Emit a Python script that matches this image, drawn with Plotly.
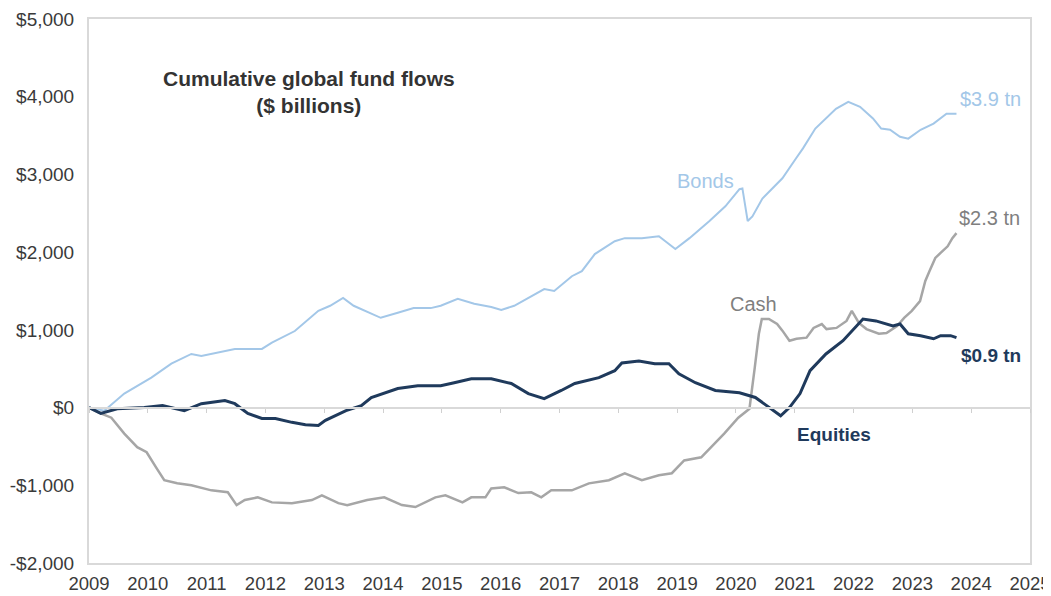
import plotly.graph_objects as go

# ---- data ----
bonds_x = [2009.00, 2009.26, 2009.60, 2010.06, 2010.40, 2010.74, 2010.91, 2011.19, 2011.48, 2011.94,
           2012.11, 2012.50, 2012.90, 2013.10, 2013.32, 2013.50, 2013.96, 2014.25, 2014.52, 2014.81,
           2014.98, 2015.27, 2015.55, 2015.84, 2016.01, 2016.23, 2016.52, 2016.74, 2016.91, 2017.21,
           2017.38, 2017.60, 2017.94, 2018.11, 2018.40, 2018.69, 2018.97, 2019.21, 2019.55, 2019.82,
           2020.06, 2020.11, 2020.20, 2020.28, 2020.45, 2020.79, 2021.02, 2021.14, 2021.35, 2021.70,
           2021.91, 2022.11, 2022.33, 2022.47, 2022.62, 2022.79, 2022.93, 2023.14, 2023.36, 2023.58,
           2023.75]
bonds_y = [0, -40, 180, 385, 565, 690, 665, 705, 755, 755,
           835, 985, 1245, 1310, 1410, 1310, 1155, 1220, 1280, 1280,
           1310, 1400, 1335, 1295, 1255, 1310, 1435, 1525, 1500, 1690,
           1755, 1975, 2140, 2180, 2180, 2205, 2040, 2180, 2400, 2590,
           2810, 2820, 2400, 2460, 2690, 2950, 3205, 3335, 3590, 3845,
           3935, 3870, 3720, 3590, 3575, 3485, 3460, 3575, 3655, 3780,
           3780]

equities_x = [2009.00, 2009.20, 2009.48, 2009.94, 2010.25, 2010.62, 2010.91, 2011.14, 2011.31, 2011.48,
              2011.70, 2011.94, 2012.17, 2012.45, 2012.68, 2012.90, 2013.02, 2013.37, 2013.63, 2013.80,
              2014.25, 2014.59, 2014.98, 2015.21, 2015.50, 2015.84, 2016.18, 2016.47, 2016.74, 2017.03,
              2017.26, 2017.67, 2017.94, 2018.06, 2018.35, 2018.62, 2018.86, 2019.03, 2019.31, 2019.65,
              2020.06, 2020.33, 2020.57, 2020.76, 2020.91, 2021.09, 2021.26, 2021.53, 2021.82, 2022.11,
              2022.16, 2022.38, 2022.67, 2022.79, 2022.93, 2023.14, 2023.36, 2023.48, 2023.65, 2023.75]
equities_y = [0, -75, -15, 0, 25, -40, 50, 75, 90, 50,
              -75, -140, -140, -190, -220, -230, -165, -40, 25, 130,
              245, 280, 280, 320, 370, 370, 310, 180, 115, 220,
              310, 385, 475, 575, 600, 565, 565, 435, 320, 220,
              190, 130, 0, -105, 0, 180, 475, 690, 860, 1090,
              1140, 1115, 1050, 1075, 950, 925, 885, 925, 925, 900]

cash_x = [2009.00, 2009.20, 2009.38, 2009.60, 2009.82, 2009.98, 2010.14, 2010.28, 2010.50, 2010.74,
          2011.08, 2011.36, 2011.51, 2011.65, 2011.87, 2012.11, 2012.45, 2012.79, 2012.96, 2013.24,
          2013.39, 2013.73, 2014.02, 2014.32, 2014.55, 2014.89, 2015.06, 2015.35, 2015.50, 2015.74,
          2015.84, 2016.06, 2016.30, 2016.52, 2016.69, 2016.86, 2017.21, 2017.50, 2017.84, 2018.11,
          2018.40, 2018.69, 2018.91, 2019.12, 2019.41, 2019.58, 2019.80, 2020.04, 2020.23, 2020.32,
          2020.39, 2020.44, 2020.56, 2020.70, 2020.79, 2020.91, 2021.03, 2021.20, 2021.32, 2021.46,
          2021.54, 2021.71, 2021.88, 2021.97, 2022.09, 2022.22, 2022.43, 2022.56, 2022.74, 2022.86,
          2022.99, 2023.13, 2023.22, 2023.29, 2023.39, 2023.48, 2023.60, 2023.68, 2023.75]
cash_y = [0, -75, -130, -335, -510, -575, -770, -935, -975, -1000,
          -1065, -1090, -1255, -1190, -1155, -1220, -1230, -1190, -1130, -1230,
          -1255, -1190, -1155, -1255, -1280, -1155, -1130, -1220, -1155, -1155,
          -1040, -1025, -1100, -1090, -1155, -1065, -1065, -975, -935, -845,
          -935, -870, -845, -680, -640, -510, -335, -130, -15, 515,
          950, 1140, 1140, 1075, 990, 860, 885, 900, 1025, 1075,
          1010, 1025, 1115, 1245, 1090, 1010, 950, 960, 1050, 1155,
          1245, 1370, 1630, 1755, 1925, 1990, 2075, 2180, 2245]

year_ticks = list(range(2009, 2026))
year_labels = [str(y) for y in year_ticks]
y_ticks = [5000, 4000, 3000, 2000, 1000, 0, -1000, -2000]
y_labels = ["$5,000", "$4,000", "$3,000", "$2,000", "$1,000", "$0", "-$1,000", "-$2,000"]

BONDS_C = "#a3c7e8"
CASH_C = "#a6a6a6"
EQ_C = "#1f3a5c"
FONT = "Liberation Sans, Arial, sans-serif"

fig = go.Figure()
fig.add_trace(go.Scatter(x=bonds_x, y=bonds_y, mode="lines", line=dict(color=BONDS_C, width=2), name="Bonds"))
fig.add_trace(go.Scatter(x=cash_x, y=cash_y, mode="lines", line=dict(color=CASH_C, width=2.5), name="Cash"))
fig.add_trace(go.Scatter(x=equities_x, y=equities_y, mode="lines", line=dict(color=EQ_C, width=3), name="Equities"))
# invisible trace for the zero-line tick axis
fig.add_trace(go.Scatter(x=[2009, 2025], y=[0, 0], mode="lines", line=dict(width=0),
                         xaxis="x2", yaxis="y", hoverinfo="skip", showlegend=False))

# the page body keeps its default 8px margin, so the figure is sized to fill the rest of the window
fig.update_layout(
    width=1043, height=588,
    margin=dict(l=81, r=21, t=11, b=33, autoexpand=False),
    paper_bgcolor="white", plot_bgcolor="white",
    showlegend=False,
    font=dict(family=FONT, color="#3a3a3a", size=19),
    xaxis=dict(range=[2009, 2025], tickvals=year_ticks, ticktext=year_labels,
               showgrid=False, zeroline=False, showline=True, linecolor="#d9d9d9", linewidth=2,
               mirror=True, ticks="", ticklabelstandoff=3, automargin=False,
               ticklabeloverflow="allow",
               tickfont=dict(family=FONT, size=18.5, color="#3a3a3a")),
    xaxis2=dict(range=[2009, 2025], overlaying="x", anchor="free", position=2/7,
                tickvals=year_ticks, showticklabels=False, ticks="outside", ticklen=4,
                tickcolor="#d0d0d0", showline=True, linecolor="#d9d9d9", linewidth=2,
                showgrid=False, zeroline=False, automargin=False),
    yaxis=dict(range=[-2000, 5000], tickvals=y_ticks, ticktext=y_labels,
               showgrid=False, zeroline=False, showline=True, linecolor="#d9d9d9", linewidth=2,
               mirror=True, ticks="", ticklabelstandoff=9, automargin=False,
               ticklabeloverflow="allow",
               tickfont=dict(family=FONT, size=19, color="#3a3a3a")),
)

ann = [
    dict(x=2012.74, y=4060, text="<b>Cumulative global fund flows<br>($ billions)</b>",
         font=dict(size=21, color="#333333")),
    dict(x=2019.48, y=2920, text="Bonds", font=dict(size=20, color=BONDS_C)),
    dict(x=2024.32, y=3977, text="$3.9 tn", font=dict(size=20, color=BONDS_C)),
    dict(x=2024.31, y=2445, text="$2.3 tn", font=dict(size=20, color="#7f7f7f")),
    dict(x=2020.30, y=1338, text="Cash", font=dict(size=20, color="#7f7f7f")),
    dict(x=2024.34, y=669, text="<b>$0.9 tn</b>", font=dict(size=19, color=EQ_C)),
    dict(x=2021.66, y=-347, text="<b>Equities</b>", font=dict(size=19, color=EQ_C)),
]
for a in ann:
    a.update(xref="x", yref="y", showarrow=False, xanchor="center", yanchor="middle")
    a["font"]["family"] = FONT
fig.update_layout(annotations=ann)

fig.write_html("out.html")
